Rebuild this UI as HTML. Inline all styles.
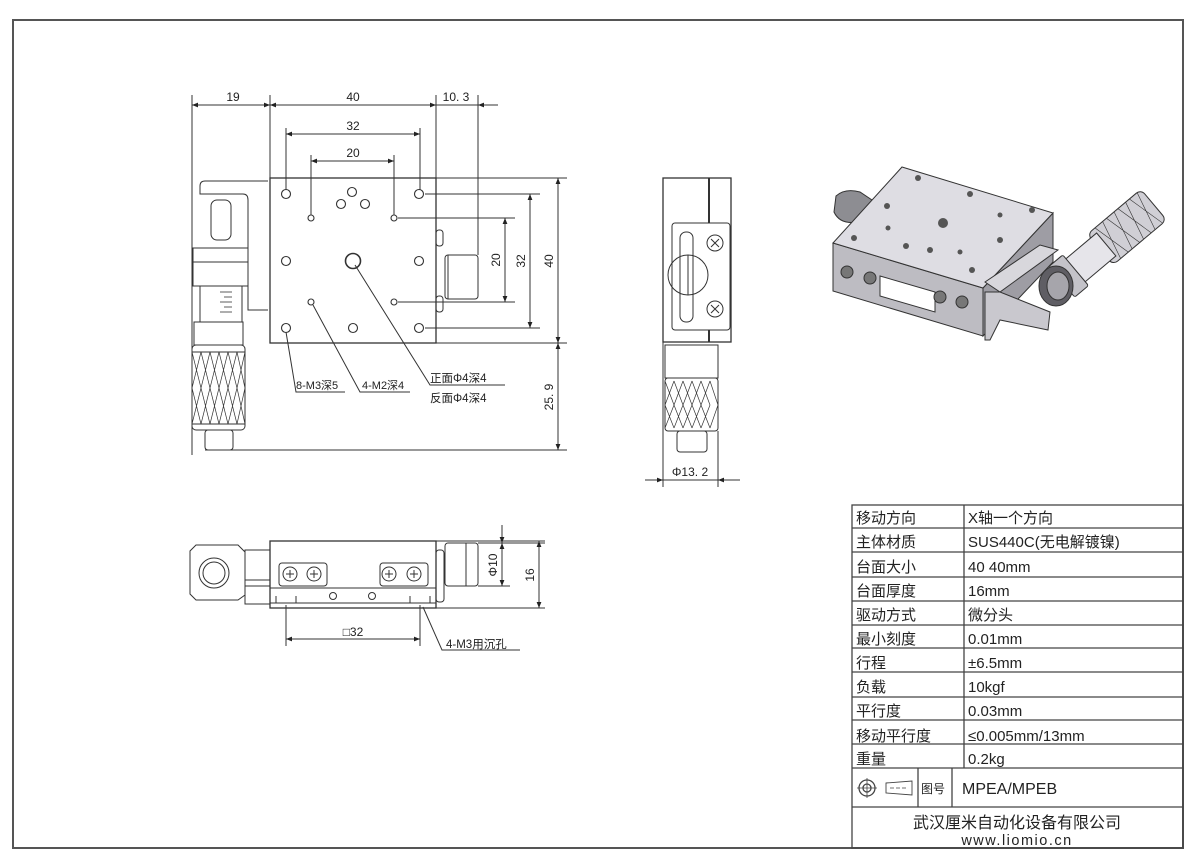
<!DOCTYPE html>
<html><head><meta charset="utf-8"><style>
html,body{margin:0;padding:0;background:#fff;}
svg{display:block;}
text{font-family:"Liberation Sans","Noto Sans CJK SC",sans-serif;fill:#222;}
</style></head><body>
<svg width="1200" height="866" viewBox="0 0 1200 866" xmlns="http://www.w3.org/2000/svg">
<defs>
<marker id="a" viewBox="0 0 10 10" refX="10" refY="5" markerWidth="9" markerHeight="6" orient="auto-start-reverse" markerUnits="userSpaceOnUse"><path d="M0,1 L10,5 L0,9 z" fill="#222"/></marker>
</defs>
<rect x="13" y="20" width="1170" height="828" fill="none" stroke="#555" stroke-width="2"/>

<!-- TOP VIEW -->
<g stroke="#333" fill="none" stroke-width="1">
<line x1="192" y1="95" x2="192" y2="455"/>
<line x1="270" y1="95" x2="270" y2="178"/>
<line x1="436" y1="95" x2="436" y2="178"/>
<line x1="478" y1="95" x2="478" y2="255"/>
<line x1="286" y1="128" x2="286" y2="190"/>
<line x1="420" y1="128" x2="420" y2="190"/>
<line x1="311" y1="155" x2="311" y2="215"/>
<line x1="394" y1="155" x2="394" y2="215"/>
<line x1="436" y1="178" x2="567" y2="178"/>
<line x1="436" y1="343" x2="567" y2="343"/>
<line x1="425" y1="194" x2="540" y2="194"/>
<line x1="425" y1="328" x2="540" y2="328"/>
<line x1="398" y1="218" x2="515" y2="218"/>
<line x1="398" y1="302" x2="515" y2="302"/>
<line x1="205" y1="450" x2="567" y2="450"/>
<line x1="192" y1="105" x2="270" y2="105" marker-start="url(#a)" marker-end="url(#a)"/>
<line x1="270" y1="105" x2="436" y2="105" marker-start="url(#a)" marker-end="url(#a)"/>
<line x1="436" y1="105" x2="498" y2="105"/>
<line x1="498" y1="105" x2="478" y2="105" marker-end="url(#a)"/>
<line x1="286" y1="134" x2="420" y2="134" marker-start="url(#a)" marker-end="url(#a)"/>
<line x1="311" y1="161" x2="394" y2="161" marker-start="url(#a)" marker-end="url(#a)"/>
<line x1="505" y1="218" x2="505" y2="302" marker-start="url(#a)" marker-end="url(#a)"/>
<line x1="530" y1="194" x2="530" y2="328" marker-start="url(#a)" marker-end="url(#a)"/>
<line x1="558" y1="178" x2="558" y2="343" marker-start="url(#a)" marker-end="url(#a)"/>
<line x1="558" y1="343" x2="558" y2="450" marker-start="url(#a)" marker-end="url(#a)"/>
<rect x="270" y="178" width="166" height="165" stroke-width="1.3"/>
<g stroke-width="1.1">
<circle cx="286" cy="194" r="4.5"/><circle cx="419" cy="194" r="4.5"/>
<circle cx="286" cy="328" r="4.5"/><circle cx="419" cy="328" r="4.5"/>
<circle cx="286" cy="261" r="4.5"/><circle cx="419" cy="261" r="4.5"/>
<circle cx="353" cy="328" r="4.5"/>
<circle cx="352" cy="192" r="4.5"/><circle cx="341" cy="204" r="4.5"/><circle cx="365" cy="204" r="4.5"/>
<circle cx="311" cy="218" r="3"/><circle cx="394" cy="218" r="3"/>
<circle cx="311" cy="302" r="3"/><circle cx="394" cy="302" r="3"/>
<circle cx="353" cy="261" r="7.5" stroke-width="1.6"/>
</g>
<rect x="436" y="230" width="7" height="16" rx="3"/>
<rect x="436" y="296" width="7" height="16" rx="3"/>
<rect x="445" y="255" width="33" height="44" rx="3"/>
<line x1="448" y1="255" x2="448" y2="299"/>
<path d="M268,181 L205,181 Q200,181 200,186 L200,194 L243,194 Q248,194 248,200 L248,310 L268,310"/>
<rect x="211" y="200" width="20" height="40" rx="6"/>
<rect x="193" y="248" width="55" height="38"/>
<line x1="193" y1="262" x2="248" y2="262"/>
<rect x="200" y="286" width="42" height="36"/>
<g stroke-width="0.8"><line x1="220" y1="292" x2="232" y2="292"/><line x1="224" y1="297" x2="232" y2="297"/><line x1="220" y1="302" x2="232" y2="302"/><line x1="224" y1="307" x2="232" y2="307"/><line x1="220" y1="312" x2="232" y2="312"/></g>
<rect x="194" y="322" width="49" height="23"/>
<rect x="192" y="345" width="53" height="85" rx="4"/>
<path d="M192,352 L245,352 M192,424 L245,424" />
<g stroke-width="0.7">
<path d="M192,352 L201,388 L192,424 M201,352 L192,388 L201,424 M201,352 L210,388 L201,424 M210,352 L201,388 L210,424 M210,352 L219,388 L210,424 M219,352 L210,388 L219,424 M219,352 L228,388 L219,424 M228,352 L219,388 L228,424 M228,352 L237,388 L228,424 M237,352 L228,388 L237,424 M237,352 L245,388 L237,424 M245,352 L237,388 L245,424"/>
</g>
<rect x="205" y="430" width="28" height="20" rx="3"/>
<polyline points="355,265 430,385 505,385"/>
<polyline points="286,332 296,392 345,392"/>
<polyline points="313,305 360,392 410,392"/>
</g>
<g font-size="12">
<text x="233" y="101" text-anchor="middle">19</text>
<text x="353" y="101" text-anchor="middle">40</text>
<text x="456" y="101" text-anchor="middle">10. 3</text>
<text x="353" y="130" text-anchor="middle">32</text>
<text x="353" y="157" text-anchor="middle">20</text>
<text transform="translate(500,260) rotate(-90)" text-anchor="middle">20</text>
<text transform="translate(525,261) rotate(-90)" text-anchor="middle">32</text>
<text transform="translate(553,261) rotate(-90)" text-anchor="middle">40</text>
<text transform="translate(553,397) rotate(-90)" text-anchor="middle">25. 9</text>
<text x="296" y="389" font-size="11">8-M3深5</text>
<text x="362" y="389" font-size="11">4-M2深4</text>
<text x="430" y="382" font-size="11.5">正面Φ4深4</text>
<text x="430" y="402" font-size="11.5">反面Φ4深4</text>
</g>

<!-- SIDE VIEW -->
<g stroke="#333" fill="none" stroke-width="1">
<rect x="663" y="178" width="68" height="164" stroke-width="1.3"/>
<line x1="709" y1="178" x2="709" y2="342" stroke-width="2"/>
<rect x="672" y="223" width="58" height="107" rx="3" fill="#fff"/>
<rect x="680" y="232" width="13" height="90" rx="6"/>
<circle cx="688" cy="275" r="20"/>
<line x1="688" y1="255" x2="688" y2="295"/>
<circle cx="715" cy="243" r="8"/><path d="M711,239 L719,247 M719,239 L711,247"/>
<circle cx="715" cy="309" r="8"/><path d="M711,305 L719,313 M719,305 L711,313"/>
<rect x="665" y="345" width="53" height="33"/>
<rect x="665" y="378" width="53" height="53" rx="3"/>
<g stroke-width="0.7"><path d="M665,381 L674,405 L665,428 M674,381 L665,405 L674,428 M674,381 L683,405 L674,428 M683,381 L674,405 L683,428 M683,381 L692,405 L683,428 M692,381 L683,405 L692,428 M692,381 L701,405 L692,428 M701,381 L692,405 L701,428 M701,381 L710,405 L701,428 M710,381 L701,405 L710,428 M710,381 L718,405 L710,428"/></g>
<rect x="677" y="431" width="30" height="21" rx="3"/>
<line x1="663" y1="342" x2="663" y2="487"/>
<line x1="718" y1="431" x2="718" y2="487"/>
<line x1="645" y1="480" x2="663" y2="480" marker-end="url(#a)"/>
<line x1="740" y1="480" x2="718" y2="480" marker-end="url(#a)"/>
<line x1="663" y1="480" x2="718" y2="480"/>
</g>
<text x="690" y="476" font-size="12" text-anchor="middle">Φ13. 2</text>

<!-- BOTTOM VIEW -->
<g stroke="#333" fill="none" stroke-width="1">
<path d="M196,545 L238,545 L245,552 L245,595 L238,600 L196,600 L190,594 L190,551 Z"/>
<circle cx="214" cy="573" r="15"/>
<circle cx="214" cy="573" r="11"/>
<rect x="245" y="550" width="25" height="30"/>
<rect x="245" y="586" width="25" height="18"/>
<rect x="270" y="541" width="166" height="67" stroke-width="1.3"/>
<line x1="270" y1="588" x2="436" y2="588"/>
<line x1="270" y1="603" x2="436" y2="603"/>
<rect x="279" y="563" width="48" height="23" rx="3"/>
<rect x="380" y="563" width="48" height="23" rx="3"/>
<circle cx="290" cy="574" r="7"/><circle cx="314" cy="574" r="7"/><circle cx="389" cy="574" r="7"/><circle cx="414" cy="574" r="7"/>
<path d="M286,574 h8 M290,570 v8 M310,574 h8 M314,570 v8 M385,574 h8 M389,570 v8 M410,574 h8 M414,570 v8"/>
<circle cx="333" cy="596" r="3.5"/><circle cx="372" cy="596" r="3.5"/>
<path d="M276,596 v7 h20 v-7 M410,596 v7 h20 v-7"/>
<rect x="436" y="550" width="8" height="52" rx="3"/>
<rect x="445" y="543" width="33" height="43" rx="3"/>
<line x1="466" y1="543" x2="466" y2="586"/>
<line x1="478" y1="543" x2="545" y2="543"/>
<line x1="478" y1="586" x2="510" y2="586"/>
<line x1="436" y1="541" x2="545" y2="541"/>
<line x1="436" y1="608" x2="545" y2="608"/>
<line x1="502" y1="525" x2="502" y2="543" marker-end="url(#a)"/>
<line x1="502" y1="543" x2="502" y2="586" marker-start="url(#a)" marker-end="url(#a)"/>
<line x1="539" y1="541" x2="539" y2="608" marker-start="url(#a)" marker-end="url(#a)"/>
<line x1="286" y1="605" x2="286" y2="646"/>
<line x1="420" y1="605" x2="420" y2="646"/>
<line x1="286" y1="639" x2="420" y2="639" marker-start="url(#a)" marker-end="url(#a)"/>
<polyline points="423,607 442,650 520,650"/>
</g>
<g font-size="12">
<text transform="translate(497,565) rotate(-90)" text-anchor="middle">Φ10</text>
<text transform="translate(534,575) rotate(-90)" text-anchor="middle">16</text>
<text x="353" y="636" text-anchor="middle">□32</text>
<text x="446" y="648" font-size="11.5">4-M3用沉孔</text>
</g>

<!-- 3D ISO -->
<g stroke="#333" stroke-width="1">
<path d="M836,196 Q845,188 860,192 L872,200 L858,222 Q840,225 834,212 Z" fill="#8d8d92"/>
<polygon points="833,243 983,288 983,336 833,291" fill="#bdbcc2"/>
<polygon points="983,288 1053,213 1053,262 983,336" fill="#9e9da4"/>
<polygon points="902,167 1053,213 983,288 833,243" fill="#dedde3"/>
<polygon points="880,276 935,292 935,312 880,296" fill="#fff"/>
<polygon points="985,282 1040,245 1058,250 1000,292" fill="#d8d7dc"/>
<polygon points="985,292 1000,292 1050,312 1048,330 1000,320 990,340 985,340" fill="#c9c8ce"/>
<g fill="#555" stroke="none">
<circle cx="918" cy="178" r="3"/><circle cx="970" cy="194" r="3"/><circle cx="1032" cy="210" r="3"/><circle cx="887" cy="206" r="3"/><circle cx="1000" cy="215" r="2.5"/>
<circle cx="943" cy="223" r="5"/><circle cx="888" cy="228" r="2.5"/><circle cx="854" cy="238" r="3"/><circle cx="1000" cy="240" r="3"/><circle cx="906" cy="246" r="3"/><circle cx="930" cy="250" r="3"/><circle cx="960" cy="252" r="2.5"/><circle cx="972" cy="270" r="3"/>
</g>
<circle cx="847" cy="272" r="6" fill="#777"/><circle cx="870" cy="278" r="6" fill="#777"/>
<circle cx="940" cy="297" r="6" fill="#777"/><circle cx="962" cy="302" r="6" fill="#777"/>
<g transform="translate(1058,285) rotate(-40)">
<rect x="55" y="-20" width="70" height="40" rx="6" fill="#d0cfd5"/>
<g stroke-width="0.6"><path d="M65,-20 L75,20 M75,-20 L65,20 M80,-20 L90,20 M90,-20 L80,20 M95,-20 L105,20 M105,-20 L95,20 M110,-20 L120,20 M120,-20 L110,20"/></g>
<rect x="18" y="-15" width="45" height="30" fill="#e6e5ea"/>
<rect x="5" y="-20" width="18" height="40" rx="2" fill="#c4c3c9"/>
</g>
<ellipse cx="1056" cy="286" rx="17" ry="20" fill="#5f5e64"/>
<ellipse cx="1058" cy="286" rx="11" ry="14" fill="#a6a5ab"/>
</g>

<!-- TABLE -->
<g stroke="#444" fill="none" stroke-width="1.3">
<rect x="852" y="505" width="331" height="343"/>
<line x1="964" y1="505" x2="964" y2="768"/>
<line x1="852" y1="528" x2="1183" y2="528"/>
<line x1="852" y1="552" x2="1183" y2="552"/>
<line x1="852" y1="577" x2="1183" y2="577"/>
<line x1="852" y1="601" x2="1183" y2="601"/>
<line x1="852" y1="625" x2="1183" y2="625"/>
<line x1="852" y1="648" x2="1183" y2="648"/>
<line x1="852" y1="672" x2="1183" y2="672"/>
<line x1="852" y1="697" x2="1183" y2="697"/>
<line x1="852" y1="720" x2="1183" y2="720"/>
<line x1="852" y1="744" x2="1183" y2="744"/>
<line x1="852" y1="768" x2="1183" y2="768"/>
<line x1="852" y1="807" x2="1183" y2="807"/>
<line x1="918" y1="768" x2="918" y2="807"/>
<line x1="952" y1="768" x2="952" y2="807"/>
<circle cx="867" cy="788" r="8"/><circle cx="867" cy="788" r="4"/>
<path d="M857,788 h20 M867,778 v20" stroke-width="0.8"/>
<polygon points="886,783 912,781 912,795 886,793" stroke-width="0.9"/>
<path d="M890,788 h18" stroke-dasharray="4 2" stroke-width="0.8"/>
</g>
<g font-size="15">
<text x="856" y="523">移动方向</text><text x="968" y="523">X轴一个方向</text>
<text x="856" y="547">主体材质</text><text x="968" y="547">SUS440C(无电解镀镍)</text>
<text x="856" y="572">台面大小</text><text x="968" y="572">40  40mm</text>
<text x="856" y="596">台面厚度</text><text x="968" y="596">16mm</text>
<text x="856" y="620">驱动方式</text><text x="968" y="620">微分头</text>
<text x="856" y="644">最小刻度</text><text x="968" y="644">0.01mm</text>
<text x="856" y="668">行程</text><text x="968" y="668">±6.5mm</text>
<text x="856" y="692">负载</text><text x="968" y="692">10kgf</text>
<text x="856" y="716">平行度</text><text x="968" y="716">0.03mm</text>
<text x="856" y="741">移动平行度</text><text x="968" y="741">≤0.005mm/13mm</text>
<text x="856" y="764">重量</text><text x="968" y="764">0.2kg</text>
<text x="921" y="793" font-size="12">图号</text>
<text x="962" y="794" font-size="16">MPEA/MPEB</text>
<text x="1017" y="828" font-size="16" text-anchor="middle">武汉厘米自动化设备有限公司</text>
<text x="1017" y="845" font-size="14.5" text-anchor="middle" letter-spacing="1.5">www.liomio.cn</text>
</g>
</svg>
</body></html>
